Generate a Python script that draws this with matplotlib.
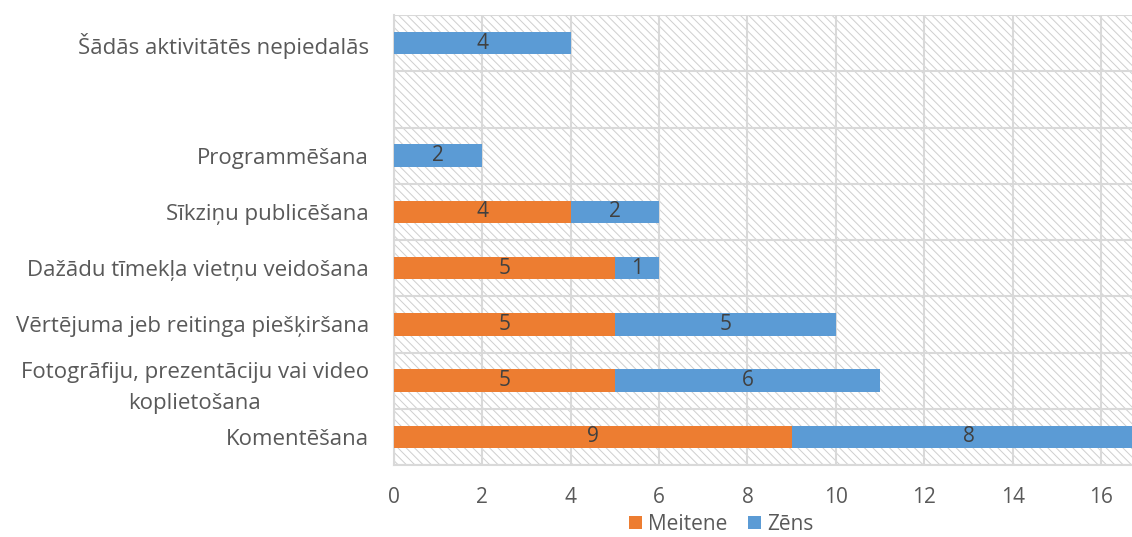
import matplotlib.pyplot as plt
import numpy as np

# categories from bottom to top (empty row kept as a gap)
categories = [
    "Komentēšana",
    "Fotogrāfiju, prezentāciju vai video\nkoplietošana",
    "Vērtējuma jeb reitinga piešķiršana",
    "Dažādu tīmekļa vietņu veidošana",
    "Sīkziņu publicēšana",
    "Programmēšana",
    "",
    "Šādās aktivitātēs nepiedalās",
]
meitene = [9, 5, 5, 5, 4, 0, 0, 0]
zens = [8, 6, 5, 1, 2, 2, 0, 4]
x_ticks = [0, 2, 4, 6, 8, 10, 12, 14, 16]

ORANGE = "#ED7D31"
BLUE = "#5B9BD5"
GRID = "#D9D9D9"
TEXT = "#595959"
FS = 16

plt.rcParams["font.family"] = ["Open Sans", "DejaVu Sans"]
plt.rcParams["hatch.linewidth"] = 0.7
plt.rcParams["hatch.color"] = "#CFCFCF"


def main():
    fig = plt.figure(figsize=(11.32, 5.37), dpi=100)
    ax = fig.add_axes([0.348, 0.134, 0.652, 0.838])

    y = np.arange(len(categories))
    m = np.array(meitene)
    z = np.array(zens)

    # hatched background
    ax.patch.set_facecolor("white")
    ax.patch.set_hatch("\\\\\\\\")
    ax.patch.set_edgecolor("#CFCFCF")

    b1 = ax.barh(y, m, height=0.4, color=ORANGE, label="Meitene", zorder=3)
    b2 = ax.barh(y, z, left=m, height=0.4, color=BLUE, label="Zēns", zorder=3)

    for bars, vals in [(b1, m), (b2, z)]:
        for rect, v in zip(bars, vals):
            if v == 0:
                continue
            ax.text(rect.get_x() + rect.get_width() / 2, rect.get_y() + rect.get_height() / 2,
                    str(v), ha="center", va="center", fontsize=FS - 1, color="#404040", zorder=4)

    ax.set_xlim(0, 16.7)
    ax.set_ylim(-0.5, len(categories) - 0.5)
    ax.set_xticks(x_ticks)
    ax.set_yticks(y)
    ax.set_yticklabels(categories, fontsize=FS, color=TEXT)
    ax.tick_params(axis="y", length=0, pad=18)
    ax.tick_params(axis="x", length=0, pad=16, labelsize=FS - 1, labelcolor=TEXT)
    for lbl in ax.get_yticklabels():
        lbl.set_multialignment("center")
        lbl.set_linespacing(1.6)

    ax.set_yticks(np.arange(-0.5, len(categories), 1), minor=True)
    ax.tick_params(axis="y", which="minor", length=0)
    ax.grid(axis="x", which="major", color=GRID, linewidth=1.5, zorder=1)
    ax.grid(axis="y", which="minor", color=GRID, linewidth=1.5, zorder=1)
    ax.set_axisbelow(True)

    for side in ["top", "right"]:
        ax.spines[side].set_visible(False)
    for side in ["left", "bottom"]:
        ax.spines[side].set_color(GRID)
        ax.spines[side].set_linewidth(1.5)

    fig.legend(handles=[b1, b2], loc="center", bbox_to_anchor=(0.637, 0.024), ncol=2,
               frameon=False, fontsize=FS - 1, labelcolor=TEXT, handlelength=0.6,
               handleheight=0.6, handletextpad=0.3, columnspacing=1.0,
               borderpad=0.1)

    fig.savefig("out.png", dpi=100)


if __name__ == "__main__":
    main()
